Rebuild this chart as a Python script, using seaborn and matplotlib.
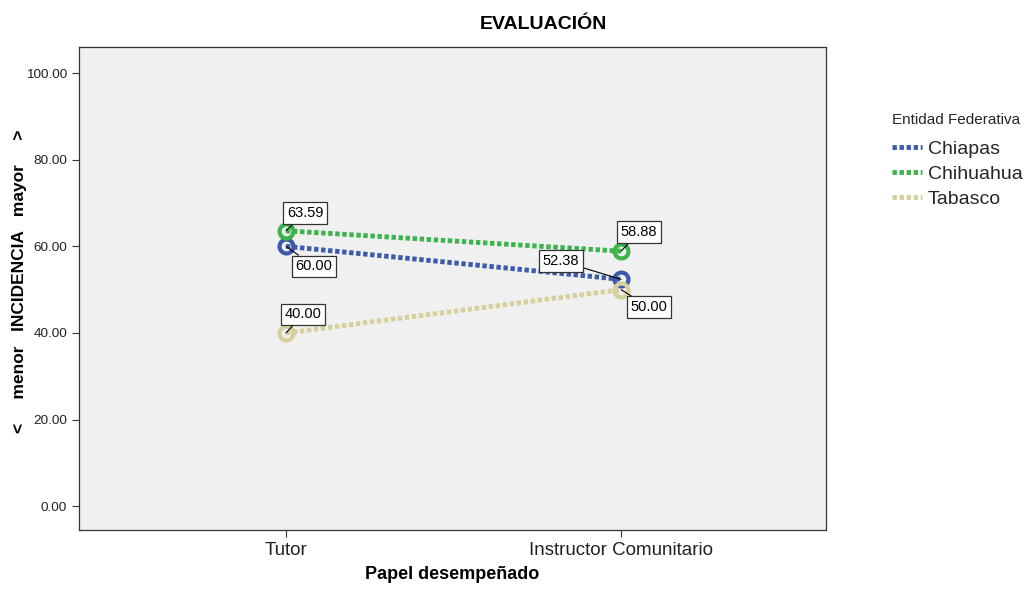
import pandas as pd
import seaborn as sns
import matplotlib.pyplot as plt
from matplotlib.lines import Line2D

papeles = ['Tutor', 'Instructor Comunitario']
entidades = ['Chiapas', 'Chihuahua', 'Tabasco']
chiapas = [60.00, 52.38]
chihuahua = [63.59, 58.88]
tabasco = [40.00, 50.00]
colores = ['#3d5aab', '#3cb44b', '#d6d09c']

df = pd.DataFrame({
    'papel': papeles * 3,
    'entidad': [e for e in entidades for _ in papeles],
    'valor': chiapas + chihuahua + tabasco,
})

sns.set_style('white')
plt.rcParams['font.family'] = ['Liberation Sans', 'DejaVu Sans']

fig = plt.figure(figsize=(10.25, 5.95), dpi=100)
ax = fig.add_axes([0.077, 0.109, 0.729, 0.812])
ax.set_facecolor('#f0f0f0')

sns.lineplot(data=df, x='papel', y='valor', hue='entidad', palette=colores,
             hue_order=entidades, linewidth=3.5, marker='o',
             markersize=10, legend=False, ax=ax, sort=False)
for line, c in zip(ax.get_lines(), colores):
    line.set_dashes((0.9, 0.55))
    line.set_markerfacecolor('none')
    line.set_markeredgecolor(c)
    line.set_markeredgewidth(3)

# etiquetas de valores (punto, posicion de la caja)
etiquetas = [
    (0, 63.59, 0.057, 67.7),
    (0, 60.00, 0.084, 55.4),
    (0, 40.00, 0.051, 44.3),
    (1, 58.88, 1.054, 63.3),
    (1, 52.38, 0.821, 56.6),
    (1, 50.00, 1.084, 46.0),
]
for x, v, tx, ty in etiquetas:
    ax.annotate(f'{v:.2f}', xy=(x, v), xytext=(tx, ty), ha='center', va='center',
                fontsize=10.5, color='black',
                bbox=dict(boxstyle='square,pad=0.25', fc='white', ec='#333333', lw=0.9),
                arrowprops=dict(arrowstyle='-', color='black', lw=0.8,
                                shrinkA=0, shrinkB=0))

ax.set_xlim(-0.618, 1.612)
ax.set_ylim(-5.5, 106)
ax.set_yticks([0, 20, 40, 60, 80, 100])
ax.set_yticklabels([f'{t:.2f}' for t in [0, 20, 40, 60, 80, 100]], fontsize=9.7)
ax.tick_params(axis='x', labelsize=13.5, length=5, direction='out', bottom=True,
               color='#333333', labelcolor='#222222')
ax.tick_params(axis='y', length=5, direction='out', left=True, color='#333333',
               labelcolor='#222222')
for s in ax.spines.values():
    s.set_color('#333333')
    s.set_linewidth(0.9)

ax.set_xlabel('Papel desempeñado', fontsize=13, fontweight='bold', labelpad=5, color='black')
ax.set_ylabel('<     menor   INCIDENCIA   mayor     >', fontsize=12.5,
              fontweight='bold', color='black')
ax.yaxis.set_label_coords(-0.069, 0.5155)
fig.text(0.53, 0.958, 'EVALUACIÓN', ha='center', va='center', fontsize=14,
         fontweight='bold', color='black')

handles = [Line2D([0], [0], color=c, linewidth=3.5, dashes=(0.9, 0.55)) for c in colores]
leg = fig.legend(handles, entidades, loc='upper left', bbox_to_anchor=(0.853, 0.84),
                 title='Entidad Federativa', frameon=False, fontsize=14,
                 handlelength=1.55, handletextpad=0.3, labelspacing=0.38,
                 title_fontsize=11)
leg._legend_box.align = 'left'
leg._legend_box.sep = 10  # mas espacio entre titulo y entradas

fig.savefig('out.png', dpi=100, facecolor='white')
